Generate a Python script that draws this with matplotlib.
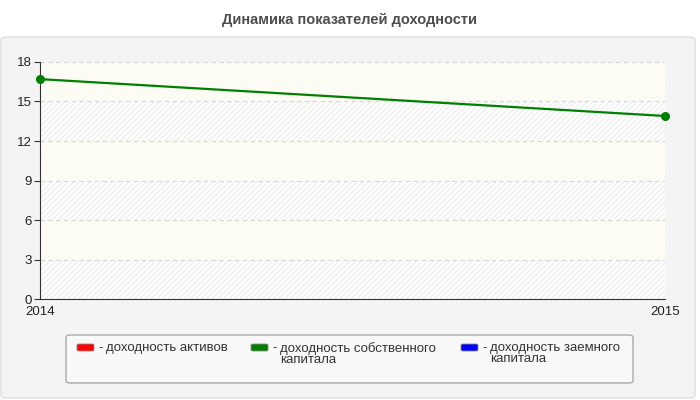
import matplotlib
matplotlib.use("Agg")
import matplotlib.pyplot as plt
from matplotlib.patches import FancyBboxPatch, Rectangle

plt.rcParams['font.family'] = ['Liberation Sans', 'DejaVu Sans']
plt.rcParams['hatch.linewidth'] = 0.8

years = ["2014", "2015"]
roe = [16.7, 13.9]
series_names = ["доходность активов", "доходность собственного\nкапитала", "доходность заемного\nкапитала"]
series_colors = ["#ff0000", "#008000", "#0000ff"]
yticks = [0, 3, 6, 9, 12, 15, 18]
title = "Динамика показателей доходности"

W, H = 700, 400
fig = plt.figure(figsize=(7, 4), dpi=100)
fig.patch.set_facecolor("white")

def fx(px):
    return px / W

def fy(py):
    return 1 - py / H

# outer panel
panel = FancyBboxPatch((fx(1), fy(398)), fx(694), 361 / H, boxstyle="round,pad=0,rounding_size=0.008",
                       transform=fig.transFigure, facecolor="#f4f4f4", edgecolor="#dedede", lw=1, zorder=-10)
fig.patches.append(panel)

fig.text(0.5, fy(20), title, ha="center", va="center", fontsize=10.5, fontweight="bold", color="#4d4d4d")

ax = fig.add_axes([fx(40), fy(299), 625 / W, 237 / H], zorder=1)
ax.set_facecolor("#ffffff")
ax.add_patch(Rectangle((0, 0), 1, 1, transform=ax.transAxes, facecolor="none", edgecolor="#ececec",
                       hatch="//////", lw=0, zorder=0))
for lo, hi in zip(yticks[1::2], yticks[2::2]):
    ax.axhspan(lo, hi, facecolor="#fdfdf5", alpha=0.88, lw=0, zorder=0.5)
x = list(range(len(years)))
ax.plot(x, roe, color=series_colors[1], lw=1.6, marker="o", ms=5.5, clip_on=False, zorder=3)
ax.set_xlim(0, len(years) - 1)
ax.set_ylim(0, 18)
ax.set_yticks(yticks)
ax.set_xticks(x)
ax.set_xticklabels(years)
ax.grid(axis="y", color="#d6d6d6", ls=(0, (4, 3)), lw=0.8, zorder=1)
ax.set_axisbelow(True)
for s in ["top", "right"]:
    ax.spines[s].set_visible(False)
ax.spines["left"].set_color("#333333")
ax.spines["bottom"].set_color("#333333")
ax.tick_params(axis="y", length=4, color="#333333", labelsize=9.5, labelcolor="#222222", pad=2)
ax.tick_params(axis="x", length=0, labelsize=9.5, labelcolor="#222222", pad=5)

# legend box
leg = FancyBboxPatch((fx(66), fy(383)), fx(567), 48 / H, boxstyle="round,pad=0,rounding_size=0.006",
                     transform=fig.transFigure, facecolor="#f8f8f8", edgecolor="#aaaaaa", lw=1, zorder=1)
fig.patches.append(leg)
lx = [77, 251, 461]
for xi, name, col in zip(lx, series_names, series_colors):
    fig.patches.append(FancyBboxPatch((fx(xi), fy(351)), fx(17), 7 / H,
                                      boxstyle="round,pad=0,rounding_size=0.003",
                                      transform=fig.transFigure, facecolor=col, edgecolor="#888888",
                                      lw=0.6, zorder=2))
    fig.text(fx(xi + 21), fy(342), "-", ha="left", va="top", fontsize=9.5, color="#333333", zorder=3)
    fig.text(fx(xi + 29), fy(342), name, ha="left", va="top", fontsize=9.5,
             color="#333333", linespacing=0.85, zorder=3)

fig.savefig("out.png", dpi=100)
